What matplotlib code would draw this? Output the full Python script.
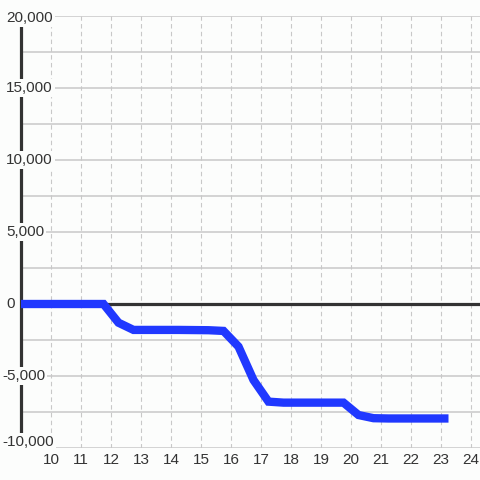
import matplotlib
matplotlib.use("Agg")
import matplotlib.pyplot as plt
import matplotlib.transforms as mtrans

plt.rcParams['font.family'] = ['Liberation Sans', 'DejaVu Sans']

# data
hours = [8.75, 9.25, 9.75, 10.25, 10.75, 11.25, 11.75, 12.25, 12.75, 13.25, 13.75,
         14.25, 14.75, 15.25, 15.75, 16.25, 16.75, 17.25, 17.75, 18.25, 18.75,
         19.25, 19.75, 20.25, 20.75, 21.25, 21.75, 22.25, 22.75, 23.25]
values = [0, 0, 0, 0, 0, 0, 0, -1300, -1800, -1800, -1800,
          -1800, -1810, -1820, -1870, -2960, -5280, -6780, -6850, -6850, -6850,
          -6850, -6850, -7710, -7930, -7950, -7950, -7950, -7950, -7950]
y_ticks = [20000, 15000, 10000, 5000, 0, -5000, -10000]
y_tick_labels = ["20,000", "15,000", "10,000", "5,000", "0", "-5,000", "-10,000"]
x_ticks = list(range(10, 25))
x_tick_labels = [str(v) for v in x_ticks]

bg = '#fcfdfc'
fig = plt.figure(figsize=(4.8, 4.8), dpi=100, facecolor=bg)
ax = fig.add_axes([21/480, 32/480, 459/480, 432/480], facecolor=bg)
ax.set_xlim(9.0, 24.3)
ax.set_ylim(-10000, 20000)

for s in ['top', 'right', 'bottom']:
    ax.spines[s].set_visible(False)
ax.spines['left'].set_color('#333333')
ax.spines['left'].set_linewidth(2.3)
ax.spines['left'].set_zorder(2)

# grid
for yv in range(-10000, 20001, 2500):
    ax.axhline(yv, color='#c8c8c8', lw=1.1, zorder=1)
ax.vlines(x_ticks, -10000, 20000, colors='#c8c8c8', lw=0.8,
          linestyles=(0, (4, 3)), zorder=1)

ax.axhline(0, color='#333333', lw=2.3, zorder=3)

ax.plot(hours, values, color='#2038ff', lw=6, solid_joinstyle='miter',
        solid_capstyle='butt', zorder=4)

ax.set_yticks([])
ax.set_xticks(x_ticks)
ax.set_xticklabels(x_tick_labels, fontsize=11, color='#333333')
ax.tick_params(axis='x', length=0, pad=3.5)

tr = mtrans.blended_transform_factory(fig.transFigure, ax.transData)
for v, lab in zip(y_ticks, y_tick_labels):
    xpos = 2/480 if v < 0 else 6/480
    t = tr
    if v == -10000:
        t = tr + mtrans.ScaledTranslation(0, 6/100, fig.dpi_scale_trans)
    elif v == 20000:
        t = tr + mtrans.ScaledTranslation(0, -1.5/100, fig.dpi_scale_trans)
    ax.text(xpos, v, lab, transform=t, ha='left', va='center', fontsize=11,
            color='#333333', zorder=5,
            bbox=dict(boxstyle='square,pad=0.15', fc=bg, ec='none'))

fig.savefig('out.png', dpi=100, facecolor=bg)
